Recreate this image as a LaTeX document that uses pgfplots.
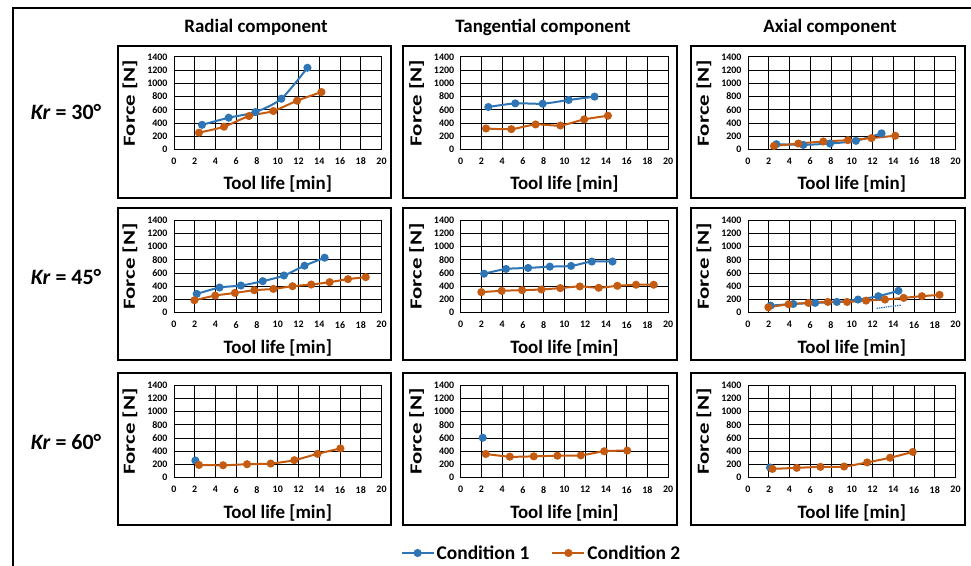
\documentclass[border=0pt]{standalone}
\usepackage{pgfplots}
\pgfplotsset{compat=1.18}
\usepackage{fontspec}
\setmainfont{Carlito}
\definecolor{cA}{RGB}{46,117,182}
\definecolor{cB}{RGB}{197,90,17}
\pgfplotsset{
 panel/.style={
  scale only axis, width=207.5bp, height=92.5bp,
  anchor=south west,
  xmin=0,xmax=20,ymin=0,ymax=1400,
  xtick={0,2,...,20}, ytick={0,200,...,1400},
  grid=major, major grid style={black, line width=0.7bp},
  axis line style={black, line width=0.7bp},
  tick style={draw=none},
  ticklabel style={font=\bfseries\fontsize{10}{11}\selectfont},
  /pgf/number format/assume math mode=true,
  /pgf/number format/1000 sep={},
  xticklabel style={yshift=-5bp},
  yticklabel style={xshift=-3bp},
  xlabel={Tool life [min]}, ylabel={Force [N]},
  xlabel style={font=\bfseries\fontsize{19}{21}\selectfont, at={(axis description cs:0.5,-0.378)}, anchor=center},
  ylabel style={font=\bfseries\fontsize{17}{19}\selectfont, at={(axis description cs:-0.212,0.5)}, anchor=center, xscale=1.35},
 },
 sA/.style={color=cA, line width=2bp, mark=*, mark size=3bp, smooth, tension=0.45, mark options={solid}},
 sB/.style={color=cB, line width=2bp, mark=*, mark size=3bp, smooth, tension=0.45, mark options={solid}},
}
\begin{document}
\begin{tikzpicture}
\begin{scope}[x=1bp,y=1bp]
\useasboundingbox (0,0) rectangle (971,566);
\draw[line width=1.6bp] (13,-1) -- (13,558) -- (972,558);
\foreach \yy in {368,206,41} {
  \draw[line width=1.3bp] (118,\yy) rectangle (391,\yy+152);
  \draw[line width=1.3bp] (403,\yy) rectangle (677,\yy+152);
  \draw[line width=1.3bp] (691,\yy) rectangle (965,\yy+152);
}
\node[font=\bfseries\fontsize{19}{21}\selectfont] at (256,539) {Radial component};
\node[font=\bfseries\fontsize{19}{21}\selectfont] at (543,539) {Tangential component};
\node[font=\bfseries\fontsize{19}{21}\selectfont] at (830,539) {Axial component};
\node[font=\bfseries\fontsize{22}{24}\selectfont] at (66,454) {\textit{Kr} = 30°};
\node[font=\bfseries\fontsize{22}{24}\selectfont] at (66,289) {\textit{Kr} = 45°};
\node[font=\bfseries\fontsize{22}{24}\selectfont] at (66,124) {\textit{Kr} = 60°};
\end{scope}

% Row 1
\begin{axis}[panel, at={(174bp,416.7bp)}]
\addplot[sA] coordinates {(2.70,370)(5.27,478)(7.85,564)(10.35,765)(12.86,1234)};
\addplot[sB] coordinates {(2.41,252)(4.82,342)(7.23,503)(9.58,579)(11.86,735)(14.21,866)};
\end{axis}
\begin{axis}[panel, at={(460.7bp,416.7bp)}]
\addplot[sA] coordinates {(2.66,640)(5.26,695)(7.9,690)(10.4,746)(12.9,797)};
\addplot[sB] coordinates {(2.44,315)(4.88,305)(7.22,376)(9.6,360)(11.9,452)(14.19,508)};
\end{axis}
\begin{axis}[panel, at={(748bp,416.7bp)}]
\addplot[sA] coordinates {(2.73,77)(5.33,67)(7.9,87)(10.4,128)(12.87,241)};
\addplot[sB] coordinates {(2.5,51)(4.85,87)(7.26,118)(9.63,138)(11.9,169)(14.19,205)};
\end{axis}

% Row 2
\begin{axis}[panel, at={(174bp,253.3bp)}]
\addplot[sA] coordinates {(2.19,284)(4.39,381)(6.45,411)(8.55,477)(10.6,563)(12.58,711)(14.52,832)};
\addplot[sB] coordinates {(1.97,188)(3.97,259)(5.87,299)(7.74,340)(9.58,360)(11.42,401)(13.23,426)(15.0,462)(16.77,508)(18.48,538)};
\end{axis}
\begin{axis}[panel, at={(460.7bp,253.3bp)}]
\addplot[sA] coordinates {(2.25,590)(4.37,662)(6.5,677)(8.59,697)(10.64,708)(12.64,774)(14.63,774)};
\addplot[sB] coordinates {(1.99,311)(3.95,331)(5.92,341)(7.78,351)(9.6,372)(11.48,397)(13.3,377)(15.1,407)(16.9,423)(18.6,423)};
\end{axis}
\begin{axis}[panel, at={(748bp,253.3bp)}]
\addplot[sA] coordinates {(2.18,107)(4.36,132)(6.47,148)(8.56,163)(10.6,199)(12.56,250)(14.5,331)};
\addplot[sB] coordinates {(1.96,81)(3.91,127)(5.83,148)(7.69,163)(9.55,163)(11.38,183)(13.2,199)(15.0,224)(16.76,250)(18.46,270)};
\addplot[cA, line width=1.3bp, densely dotted] coordinates {(12.4,66)(14.8,115)};
\end{axis}

% Row 3
\begin{axis}[panel, at={(174bp,88.3bp)}]
\addplot[sA] coordinates {(2.06,260)};
\addplot[sB] coordinates {(2.41,193)(4.73,188)(7.04,204)(9.32,214)(11.6,265)(13.83,361)(16.04,443)};
\end{axis}
\begin{axis}[panel, at={(460.7bp,88.3bp)},
  legend style={at={(axis description cs:0.389,-0.814)}, anchor=center, draw=none, fill=none,
    font=\bfseries\fontsize{19.5}{21}\selectfont, legend columns=2,
    /tikz/every even column/.append style={column sep=20bp}},
  legend image code/.code={\draw[mark repeat=2,mark phase=2,#1] plot coordinates {(0bp,0bp) (16bp,0bp) (32bp,0bp)};}]
\addplot[sA] coordinates {(2.12,605)};
\addlegendentry{Condition 1}
\addplot[sB] coordinates {(2.41,359)(4.73,318)(7.04,323)(9.32,333)(11.58,338)(13.83,400)(16.05,410)};
\addlegendentry{Condition 2}
\end{axis}
\begin{axis}[panel, at={(748bp,88.3bp)}]
\addplot[sA] coordinates {(2.12,154)};
\addplot[sB] coordinates {(2.35,133)(4.7,149)(6.98,164)(9.26,169)(11.48,231)(13.7,302)(15.88,390)};
\end{axis}
\end{tikzpicture}
\end{document}
